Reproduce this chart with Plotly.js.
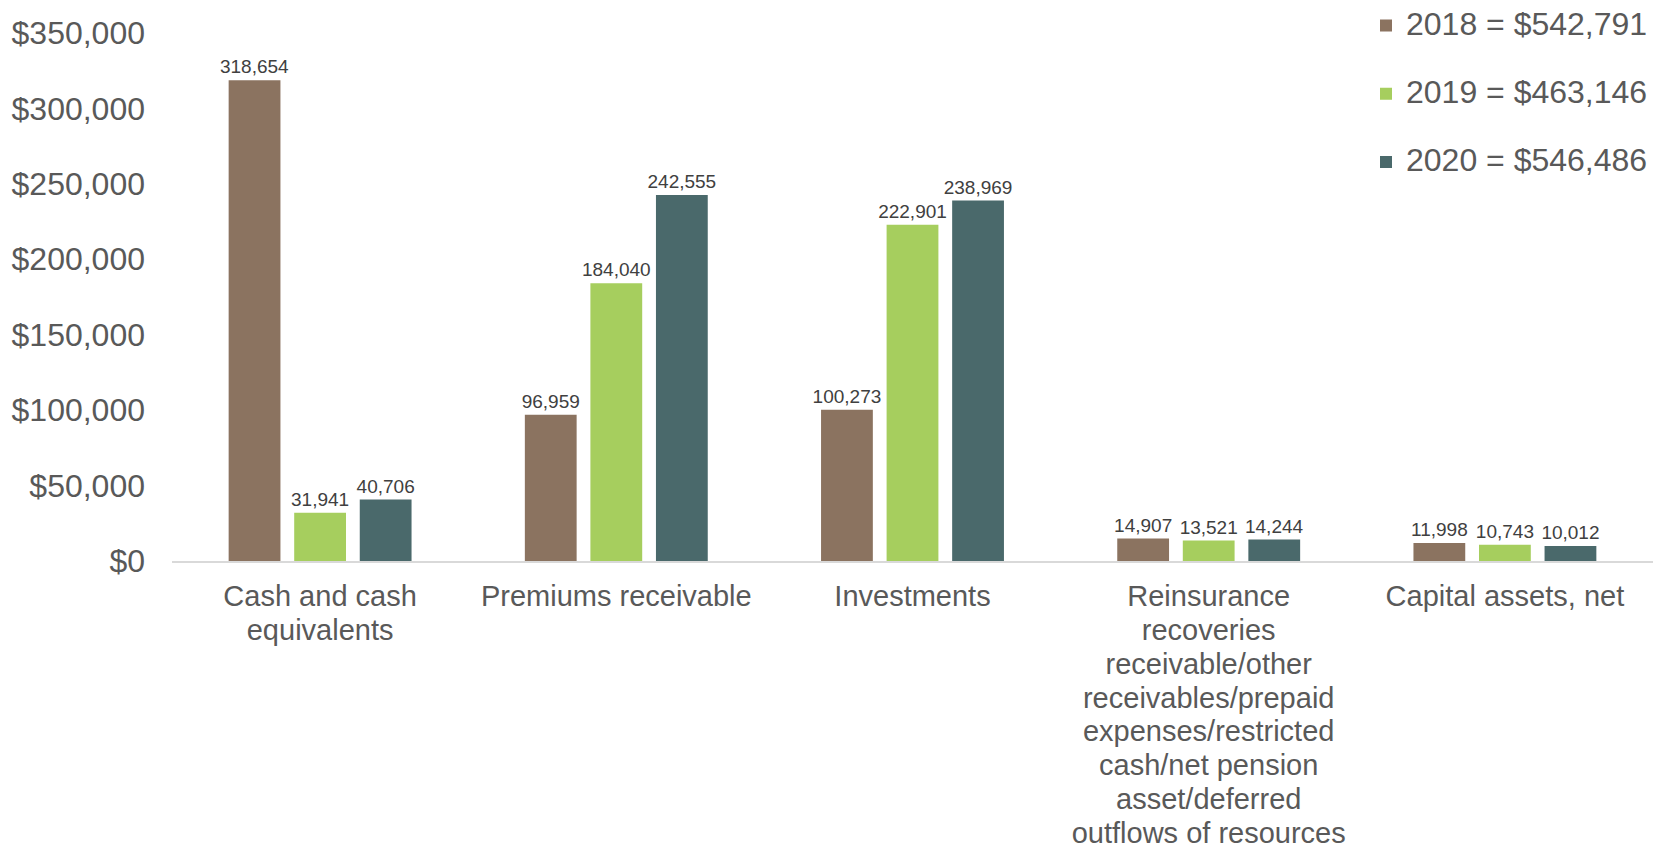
<!DOCTYPE html>
<html>
<head>
<meta charset="utf-8">
<script src="https://cdn.plot.ly/plotly-3.0.1.min.js"></script>
<style>html,body{margin:0;padding:0;background:#fff;}#chart{width:1658px;height:850px;}</style>
</head>
<body>
<div id="chart"></div>
<script>
const categories = [
  "Cash and cash<br>equivalents",
  "Premiums receivable",
  "Investments",
  "Reinsurance<br>recoveries<br>receivable/other<br>receivables/prepaid<br>expenses/restricted<br>cash/net pension<br>asset/deferred<br>outflows of resources",
  "Capital assets, net"
];
const years = ["2018", "2019", "2020"];
const values2018 = [318654, 96959, 100273, 14907, 11998];
const values2019 = [31941, 184040, 222901, 13521, 10743];
const values2020 = [40706, 242555, 238969, 14244, 10012];
const yTickVals = [0, 50000, 100000, 150000, 200000, 250000, 300000, 350000];

const series = [values2018, values2019, values2020];
const colors = ["#8B7360", "#A6CE5E", "#4A696B"];
const fmt = v => v.toLocaleString("en-US");
const yTickText = yTickVals.map(v => "$" + fmt(v));
const catTickText = categories.map(c => c.split("<br>").map(l => '<span style="font-size:29px">' + l + '</span>').join("<br>"));

const traces = series.map((vals, i) => ({
  type: "bar",
  x: categories,
  y: vals,
  name: '<span style="font-size:32px">' + years[i] + " = $" + fmt(vals.reduce((a, b) => a + b, 0)) + '</span>',
  legendgroup: "g" + i,
  marker: {color: colors[i]},
  text: vals.map(fmt),
  textposition: "outside",
  textfont: {family: "Liberation Sans, Arial, sans-serif", size: 19, color: "#404040"},
  constraintext: "none",
  cliponaxis: false,
  hoverinfo: "skip"
}));

const layout = {
  width: 1658, height: 850,
  margin: {l: 172, r: 5, t: 32, b: 289},
  paper_bgcolor: "#ffffff",
  plot_bgcolor: "#ffffff",
  font: {family: "Liberation Sans, Arial, sans-serif", color: "#595959"},
  barmode: "group",
  bargap: 0.336,
  bargroupgap: 0.21,
  showlegend: true,
  legend: {
    x: 1, xanchor: "right", y: 1.054, yanchor: "top",
    font: {size: 24, color: "#595959"},
    traceorder: "grouped",
    tracegroupgap: 34,
    bgcolor: "rgba(0,0,0,0)"
  },
  xaxis: {
    type: "category",
    tickvals: categories,
    ticktext: catTickText,
    showline: true, linecolor: "#D9D9D9", linewidth: 2,
    showgrid: false, zeroline: false,
    tickfont: {size: 26, color: "#595959"},
    ticks: "",
    tickangle: 0,
    ticklabelstandoff: 12,
    automargin: false
  },
  yaxis: {
    range: [0, 350000],
    tickvals: yTickVals,
    ticktext: yTickText,
    showgrid: false, zeroline: false, showline: false,
    tickfont: {size: 32, color: "#595959"},
    ticklabelstandoff: 26,
    automargin: false
  }
};

Plotly.newPlot("chart", traces, layout, {displayModeBar: false, staticPlot: true});
</script>
</body>
</html>
